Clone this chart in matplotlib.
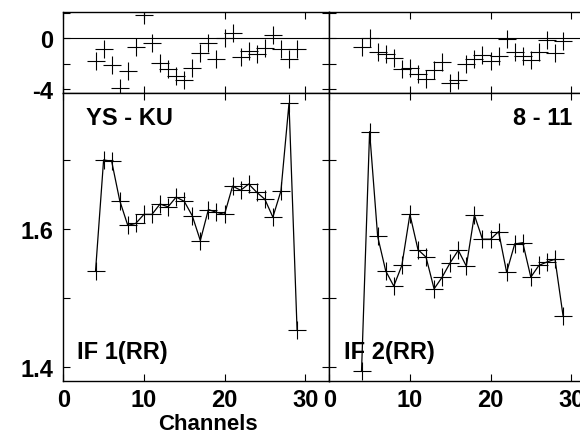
import numpy as np
import matplotlib
matplotlib.use('Agg')
import matplotlib.pyplot as plt

plt.rcParams['font.family'] = ['Liberation Sans', 'DejaVu Sans']
plt.rcParams['font.weight'] = 'bold'
plt.rcParams['font.size'] = 17

channels = np.arange(4, 30)

phase_if1 = [-1.77, -0.87, -2.09, -3.9, -2.54, -0.68, 1.78, -0.37, -1.9, -2.4,
             -2.98, -3.27, -2.35, -1.13, -0.34, -1.6, 0.03, 0.45, -1.5, -1.0,
             -1.26, -0.76, 0.24, -0.81, -1.6, -0.87]
phase_if2 = [-0.68, 0.03, -1.07, -1.21, -1.52, -2.39, -2.31, -2.76, -3.2, -2.5,
             -1.82, -3.52, -3.24, -2.0, -1.6, -1.34, -1.79, -1.42, -0.02, -1.07,
             -1.39, -1.68, -1.07, -0.16, -1.13, -0.24]
amp_if1 = [1.539, 1.700, 1.698, 1.641, 1.605, 1.608, 1.621, 1.621, 1.636, 1.632,
           1.646, 1.640, 1.619, 1.583, 1.628, 1.624, 1.621, 1.662, 1.656, 1.665,
           1.653, 1.643, 1.617, 1.655, 1.782, 1.454]
amp_if2 = [1.394, 1.741, 1.589, 1.539, 1.517, 1.547, 1.621, 1.570, 1.559, 1.513,
           1.530, 1.551, 1.569, 1.546, 1.620, 1.585, 1.585, 1.596, 1.537, 1.578,
           1.580, 1.530, 1.547, 1.552, 1.556, 1.474]

W, H = 580, 435
fig = plt.figure(figsize=(5.8, 4.35), dpi=100)

def box(x0, y0, x1, y1):
    return [x0 / W, 1 - y1 / H, (x1 - x0) / W, (y1 - y0) / H]

ax_pl = fig.add_axes(box(63.3, 13.3, 329.3, 94))
ax_pr = fig.add_axes(box(329.3, 13.3, 595.3, 94))
ax_al = fig.add_axes(box(63.3, 94, 329.3, 382.3))
ax_ar = fig.add_axes(box(329.3, 94, 595.3, 382.3))

mk = dict(marker='+', markersize=12.5, markeredgewidth=0.8, color='black')

for ax in (ax_pl, ax_pr, ax_al, ax_ar):
    ax.set_xlim(0, 33)
    ax.set_xticks([0, 10, 20, 30])
    ax.tick_params(direction='in', top=True, right=True, length=5, width=0.8)
    ax.tick_params(axis='y', pad=7)
    ax.tick_params(axis='x', pad=4.5)
    for s in ax.spines.values():
        s.set_linewidth(1.0)

for ax, ph in ((ax_pl, phase_if1), (ax_pr, phase_if2)):
    ax.plot(channels, ph, linestyle='none', **mk)
    ax.axhline(0, color='black', linewidth=0.8)
    ax.set_ylim(-4.28, 2.03)
    ax.set_yticks([2, 0, -2, -4])
    ax.set_xticklabels([])

for ax, am in ((ax_al, amp_if1), (ax_ar, amp_if2)):
    ax.plot(channels, am, linewidth=0.9, **mk)
    ax.set_ylim(1.379, 1.797)
    ax.set_yticks([1.4, 1.5, 1.6, 1.7])

ax_pl.set_yticklabels(['', '0', '', '-4'])
ax_al.set_yticklabels(['1.4', '', '1.6', ''])
ax_pr.set_yticklabels([])
ax_ar.set_yticklabels([])

ax_al.text(2.8, 1.761, 'YS - KU', fontweight='bold', va='center')
ax_al.text(1.7, 1.422, 'IF 1(RR)', fontweight='bold', va='center')
ax_ar.text(30.1, 1.761, '8 - 11', fontweight='bold', va='center', ha='right')
ax_ar.text(1.85, 1.422, 'IF 2(RR)', fontweight='bold', va='center')

fig.text(207.5 / W, 1 - 424.5 / H, 'Channels', ha='center', va='center',
         fontweight='bold', fontsize=16)

fig.savefig('out.png', dpi=100)
